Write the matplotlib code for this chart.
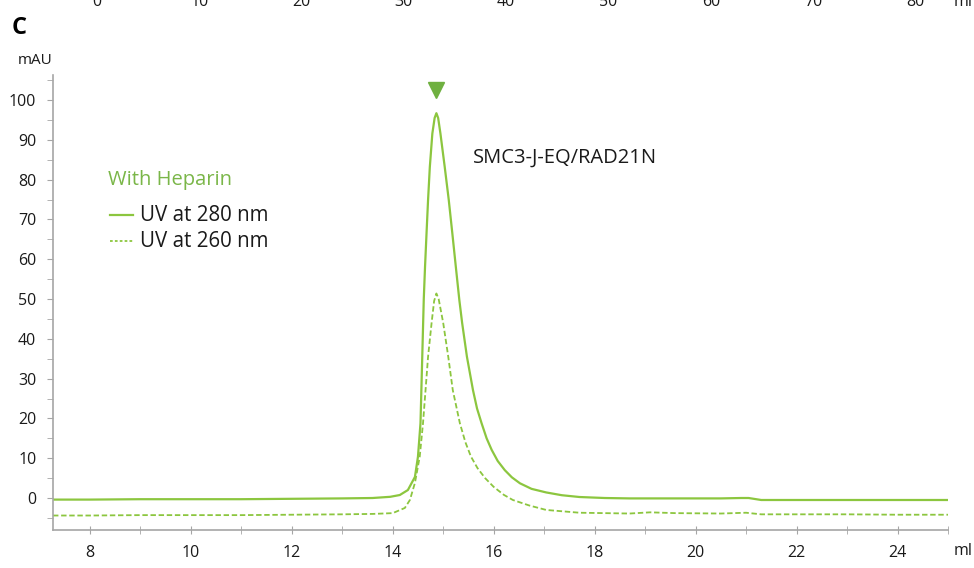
import matplotlib.pyplot as plt

plt.rcParams['font.family'] = ['Open Sans', 'DejaVu Sans']

# UV 280 nm trace (solid)
ml_280 = [7.27, 8, 9, 10, 11, 12, 13, 13.6, 13.95, 14.14, 14.30, 14.44, 14.50, 14.55,
          14.585, 14.615, 14.64, 14.67, 14.70, 14.735, 14.785, 14.83, 14.865, 14.90, 14.945,
          15.03, 15.11, 15.18, 15.25, 15.32, 15.375, 15.47, 15.59, 15.67, 15.76, 15.86,
          15.96, 16.08, 16.22, 16.36, 16.52, 16.75, 17.04, 17.35, 17.70, 18.2, 18.69,
          19.5, 20.5, 20.9, 21.05, 21.3, 21.6, 22, 23, 24, 25]
mau_280 = [-0.4, -0.4, -0.3, -0.3, -0.3, -0.2, -0.1, 0.0, 0.3, 0.75, 2.0, 5.3, 10.4, 18.8,
           35.5, 50.0, 58.1, 66.6, 74.9, 83.2, 91.6, 95.5, 96.7, 95.5, 91.6,
           83.2, 74.9, 66.6, 58.1, 49.7, 44.0, 35.5, 27.1, 22.5, 18.8, 15.0,
           12.1, 9.3, 7.0, 5.2, 3.7, 2.3, 1.4, 0.7, 0.25, 0.0, -0.1,
           -0.1, -0.1, 0.0, 0.0, -0.5, -0.5, -0.5, -0.5, -0.5, -0.5]

# UV 260 nm trace (dashed)
ml_260 = [7.27, 8, 9, 10, 11, 12, 13, 13.6, 14.0, 14.24, 14.34, 14.44, 14.535, 14.60,
          14.65, 14.70, 14.77, 14.82, 14.865, 14.91, 15.00, 15.10, 15.19, 15.33, 15.44,
          15.55, 15.68, 15.83, 16.0, 16.2, 16.38, 16.71, 17.04, 17.70, 18.69, 19.1,
          19.6, 20.5, 21.0, 21.3, 22, 23, 24, 25]
mau_260 = [-4.4, -4.4, -4.3, -4.3, -4.3, -4.2, -4.1, -4.0, -3.8, -2.5, -0.5, 3.8, 10.4, 18.8,
           27.1, 35.5, 44.0, 49.5, 51.4, 50.0, 44.0, 35.5, 27.1, 18.8, 14.0,
           10.4, 7.5, 5.0, 2.8, 0.8, -0.5, -1.9, -3.0, -3.7, -3.9, -3.6,
           -3.8, -3.9, -3.7, -4.1, -4.1, -4.1, -4.2, -4.2]

x_ticks = [8, 10, 12, 14, 16, 18, 20, 22, 24]
y_ticks = [0, 10, 20, 30, 40, 50, 60, 70, 80, 90, 100]
top_ticks = [0, 10, 20, 30, 40, 50, 60, 70, 80]

line_green = '#8cc63f'
dark_green = '#6fb040'
axis_grey = '#a6a6a6'
txt = '#1a1a1a'

fig = plt.figure(figsize=(9.74, 5.68), dpi=100)
ax = fig.add_axes([53 / 974, 1 - 530 / 568, (948 - 53) / 974, (530 - 75) / 568])

ax.plot(ml_280, mau_280, color=line_green, lw=1.6)
ax.plot(ml_260, mau_260, color=line_green, lw=1.3, ls=(0, (3, 1.5)))

# peak marker
ax.plot([14.86], [102.5], marker='v', color=dark_green, markersize=12, clip_on=False)

ax.text(15.58, 85.4, 'SMC3-J-EQ/RAD21N', fontsize=14.5, va='center', ha='left', color=txt)

# legend drawn by hand
ax.text(8.35, 79.8, 'With Heparin', fontsize=14.5, color='#7ab648', va='center')
ax.plot([8.4, 8.85], [71.0, 71.0], color=line_green, lw=1.6)
ax.text(9.0, 71.0, 'UV at 280 nm', fontsize=14.8, va='center', color=txt)
ax.plot([8.4, 8.85], [64.5, 64.5], color=line_green, lw=1.3, ls=(0, (1.5, 1.2)))
ax.text(9.0, 64.5, 'UV at 260 nm', fontsize=14.8, va='center', color=txt)

ax.set_xlim(7.27, 25)
ax.set_ylim(-8.04, 106.3)
ax.set_xticks(x_ticks)
ax.set_xticks(range(8, 26), minor=True)
ax.set_yticks(y_ticks)
ax.set_yticks(range(-5, 106, 5), minor=True)

for s in ['top', 'right']:
    ax.spines[s].set_visible(False)
for s in ['left', 'bottom']:
    ax.spines[s].set_color(axis_grey)
    ax.spines[s].set_linewidth(1.2)

ax.tick_params(axis='both', which='both', color=axis_grey, labelsize=11.5, labelcolor=txt)
ax.tick_params(axis='y', which='both', direction='out', length=4, pad=8)
ax.tick_params(axis='x', which='both', direction='inout', length=6, pad=8)

fig.text(963 / 974, 1 - 551 / 568, 'ml', fontsize=11.5, ha='center', va='center', color=txt)
fig.text(35 / 974, 1 - 60 / 568, 'mAU', fontsize=11, ha='center', va='center', color=txt)
fig.text(12 / 974, 1 - 28 / 568, 'C', fontsize=17, fontweight='bold', ha='left', va='center')

# cut-off axis labels from the panel above
for i, t in enumerate(top_ticks):
    xp = 97 + i * 102.3
    fig.text(xp / 974, 1 - 2.5 / 568, str(t), fontsize=11.5, ha='center', va='center', color=txt)
fig.text(963 / 974, 1 - 2.5 / 568, 'ml', fontsize=11.5, ha='center', va='center', color=txt)

fig.savefig('out.png', dpi=100)
